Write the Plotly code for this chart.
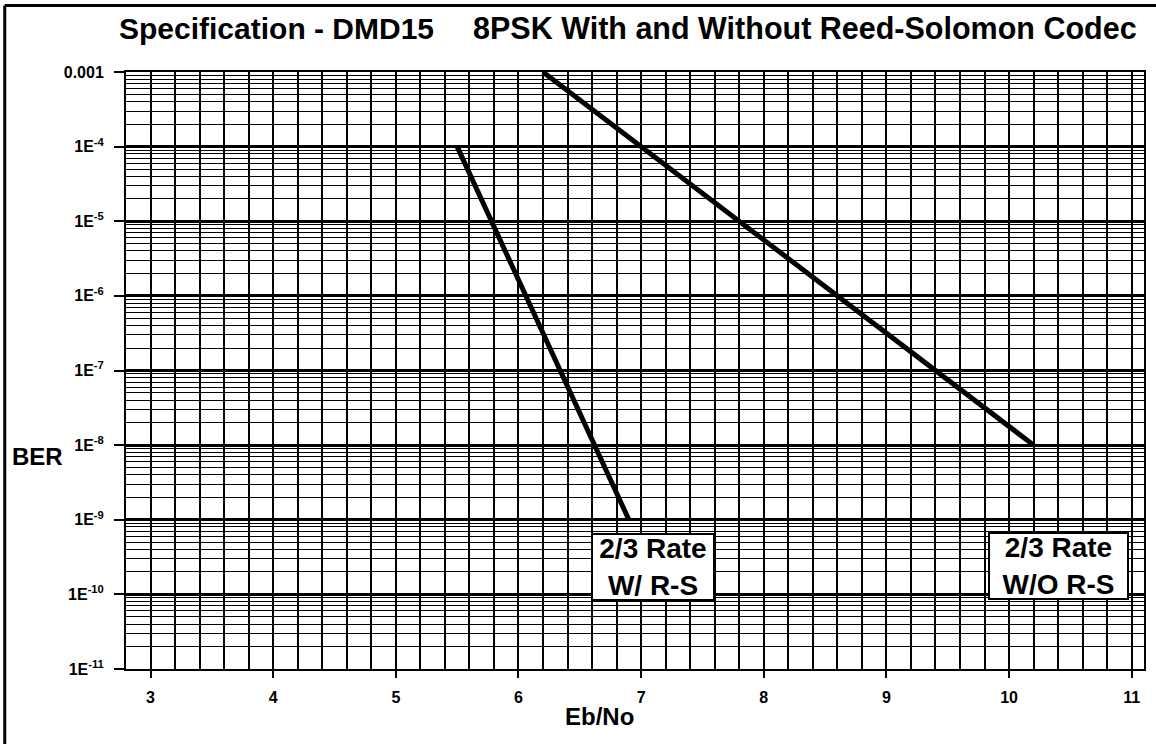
import numpy as np
import plotly.graph_objects as go

# ---- data ----
ebno_rs = [5.5, 6.9]          # 2/3 rate with Reed-Solomon
ber_rs = [1e-4, 1e-9]
ebno_nors = [6.2, 10.2]       # 2/3 rate without Reed-Solomon
ber_nors = [1e-3, 1e-8]

x_tickvals = [3, 4, 5, 6, 7, 8, 9, 10, 11]
x_ticktext = ["3", "4", "5", "6", "7", "8", "9", "10", "11"]
y_exponents = [-11, -10, -9, -8, -7, -6, -5, -4, -3]
y_ticktext = ["1E<sup>-11</sup>", "1E<sup>-10</sup>", "1E<sup>-9</sup>", "1E<sup>-8</sup>",
              "1E<sup>-7</sup>", "1E<sup>-6</sup>", "1E<sup>-5</sup>", "1E<sup>-4</sup>", "0.001"]

title_left = "Specification - DMD15"
title_right = "8PSK With and Without Reed-Solomon Codec"
label_rs = "2/3 Rate<br>W/ R-S"
label_nors = "2/3 Rate<br>W/O R-S"
x_title = "Eb/No"
y_title = "BER"

# ---- layout geometry ----
W, H = 1156, 744
L, R, T, B = 126, 10, 72, 75
PW, PH = W - L - R, H - T - B


def px(x):
    return (x - L) / PW


def py(y):
    return (H - B - y) / PH


FONT = "Liberation Sans, Arial, Helvetica, sans-serif"


def bold(size):
    return dict(size=size, family=FONT, color="black", weight="bold")


y_tickvals = [10.0 ** e for e in y_exponents]
y_minor = [m * 10.0 ** e for e in y_exponents[:-1] for m in range(2, 10)]
x_minor = list(np.round(np.arange(2.8, 11.11, 0.2), 2))

fig = go.Figure()
fig.add_trace(go.Scatter(x=ebno_rs, y=ber_rs, mode="lines",
                         line=dict(color="black", width=5), showlegend=False))
fig.add_trace(go.Scatter(x=ebno_nors, y=ber_nors, mode="lines",
                         line=dict(color="black", width=5), showlegend=False))

fig.update_layout(
    width=W, height=H,
    margin=dict(l=L, r=R, t=T, b=B),
    paper_bgcolor="white", plot_bgcolor="white",
    font=dict(family=FONT, color="black"),
    showlegend=False,
    xaxis=dict(
        range=[2.8, 11.1], tickmode="array", tickvals=x_tickvals,
        ticktext=x_ticktext, tickfont=bold(16),
        ticks="outside", ticklen=7, tickwidth=2, tickcolor="black",
        ticklabelstandoff=6,
        showgrid=True, gridcolor="black", gridwidth=2,
        minor=dict(tickmode="array", tickvals=x_minor, showgrid=True,
                   gridcolor="black", gridwidth=2, ticks=""),
        showline=True, linecolor="black", linewidth=2, mirror=True,
        zeroline=False,
    ),
    yaxis=dict(
        type="log", range=[-11, -3], tickmode="array", tickvals=y_tickvals,
        ticktext=y_ticktext, tickfont=bold(16),
        ticks="outside", ticklen=10, tickwidth=2, tickcolor="black",
        ticklabelstandoff=7,
        showgrid=True, gridcolor="black", gridwidth=3,
        minor=dict(tickmode="array", tickvals=y_minor, showgrid=True,
                   gridcolor="black", gridwidth=1.3, ticks=""),
        showline=True, linecolor="black", linewidth=2, mirror=True,
        zeroline=False,
    ),
)

annotations = [
    dict(text=title_left, xref="paper", yref="paper",
         x=px(117), y=py(28), xanchor="left", yanchor="middle", showarrow=False,
         font=bold(30)),
    dict(text=title_right, xref="paper", yref="paper",
         x=px(1141), y=py(28), xanchor="right", yanchor="middle", showarrow=False,
         font=bold(30.5)),
    dict(text=y_title, xref="paper", yref="paper",
         x=px(37), y=py(456), xanchor="center", yanchor="middle", showarrow=False,
         font=bold(24)),
    dict(text=x_title, xref="paper", yref="paper",
         x=px(600), y=py(716), xanchor="center", yanchor="middle", showarrow=False,
         font=bold(24)),
    dict(text=label_rs, xref="x", yref="y",
         x=7.1, y=-9.63, xanchor="center", yanchor="middle", showarrow=False,
         width=120, height=64, bgcolor="white", bordercolor="black",
         borderwidth=2, borderpad=0, font=bold(28)),
    dict(text=label_nors, xref="x", yref="y",
         x=10.4, y=-9.62, xanchor="center", yanchor="middle", showarrow=False,
         width=137, height=64, bgcolor="white", bordercolor="black",
         borderwidth=2, borderpad=0, font=bold(28)),
]
fig.update_layout(annotations=annotations)

# outer frame of the page (left and top edges visible)
fig.add_shape(type="line", xref="paper", yref="paper",
              x0=px(4.5), x1=px(1200), y0=py(5.5), y1=py(5.5),
              line=dict(color="black", width=3))
fig.add_shape(type="line", xref="paper", yref="paper",
              x0=px(4.5), x1=px(4.5), y0=py(5.5), y1=py(800),
              line=dict(color="black", width=3))

fig.write_html(
    "out.html",
    config={"displayModeBar": False},
    post_script="document.body.style.margin='0px';document.body.style.overflow='hidden';",
)
